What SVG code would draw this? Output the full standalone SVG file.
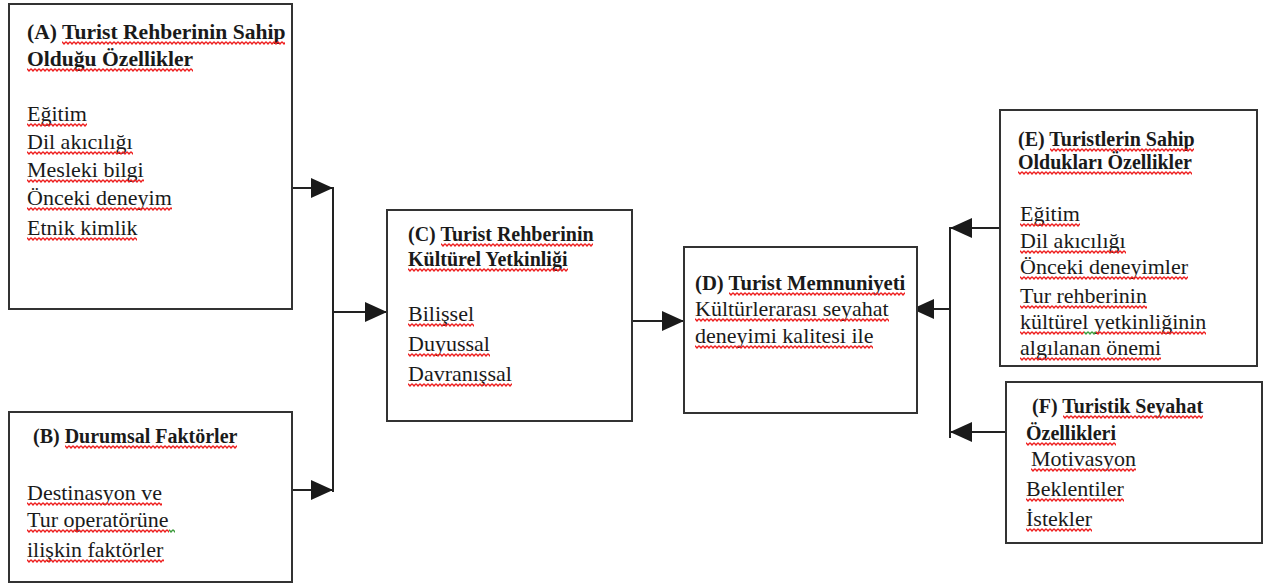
<svg xmlns="http://www.w3.org/2000/svg" width="1263" height="585" viewBox="0 0 1263 585">
  <style>
    .box { fill: #ffffff; stroke: #333333; stroke-width: 2; }
    .t { font-family: "Liberation Serif", "Times New Roman", serif; fill: #1a1a1a; font-size: 22px; }
    .b { font-weight: bold; font-size: 20px; }
    .conn { stroke: #222222; stroke-width: 2; fill: none; }
    .sq { fill: url(#squig); }
    .sqg { fill: url(#squigG); }
  </style>
  <defs>
    <marker id="arr" markerUnits="userSpaceOnUse" markerWidth="22" markerHeight="20" refX="22" refY="10" orient="auto">
      <path d="M0,0 L22,10 L0,20 Z" fill="#1a1a1a"/>
    </marker>
    <pattern id="squig" patternUnits="userSpaceOnUse" width="4" height="4">
      <path d="M0,0.8 L2,3 L4,0.8" fill="none" stroke="#ee1c1c" stroke-width="1.4"/>
    </pattern>
    <pattern id="squigG" patternUnits="userSpaceOnUse" width="4" height="4">
      <path d="M0,0.8 L2,3 L4,0.8" fill="none" stroke="#3a9a3a" stroke-width="1.4"/>
    </pattern>
  </defs>
  <rect width="1263" height="585" fill="#ffffff"/>

  <g id="connectors">
    <path class="conn" d="M289,188 H333" marker-end="url(#arr)"/>
    <path class="conn" d="M289,490 H333" marker-end="url(#arr)"/>
    <path class="conn" d="M333,187 V492"/>
    <path class="conn" d="M333,312 H387" marker-end="url(#arr)"/>
    <path class="conn" d="M632,321 H684" marker-end="url(#arr)"/>
    <path class="conn" d="M1000,228 H950" marker-end="url(#arr)"/>
    <path class="conn" d="M1006,432 H950" marker-end="url(#arr)"/>
    <path class="conn" d="M950,227 V438"/>
    <path class="conn" d="M950,309 H912" marker-end="url(#arr)"/>
  </g>

  <g id="nodeA">
    <rect class="box" x="9" y="4" width="283" height="305"/>
    <text class="t b" x="27" y="39" style="font-size:21.6px">(A) Turist Rehberinin Sahip</text>
    <text class="t b" x="27" y="66" style="font-size:21.6px">Olduğu Özellikler</text>
    <text class="t" x="27" y="121">Eğitim</text>
    <text class="t" x="27" y="149">Dil akıcılığı</text>
    <text class="t" x="27" y="177">Mesleki bilgi</text>
    <text class="t" x="27" y="205">Önceki deneyim</text>
    <text class="t" x="27" y="235">Etnik kimlik</text>
    <rect class="sq" transform="translate(62,41)" width="223" height="4"/>
    <rect class="sq" transform="translate(27,68)" width="166" height="4"/>
    <rect class="sq" transform="translate(27,123)" width="60" height="4"/>
    <rect class="sq" transform="translate(27,151)" width="106" height="4"/>
    <rect class="sq" transform="translate(27,179)" width="117" height="4"/>
    <rect class="sq" transform="translate(27,207)" width="145" height="4"/>
    <rect class="sq" transform="translate(27,237)" width="110" height="4"/>
  </g>

  <g id="nodeB">
    <rect class="box" x="9" y="412" width="283" height="170"/>
    <text class="t b" x="33" y="443">(B) Durumsal Faktörler</text>
    <text class="t" x="27" y="500">Destinasyon ve</text>
    <text class="t" x="27" y="527">Tur operatörüne</text>
    <text class="t" x="27" y="557">ilişkin faktörler</text>
    <rect class="sq" transform="translate(65,445)" width="172" height="4"/>
    <rect class="sq" transform="translate(27,502)" width="135" height="4"/>
    <rect class="sq" transform="translate(27,529)" width="142" height="4"/>
    <rect class="sqg" transform="translate(169,529)" width="6" height="4"/>
    <rect class="sq" transform="translate(27,559)" width="137" height="4"/>
  </g>

  <g id="nodeC">
    <rect class="box" x="387" y="210" width="245" height="211"/>
    <text class="t b" x="408" y="241">(C) Turist Rehberinin</text>
    <text class="t b" x="408" y="266">Kültürel Yetkinliği</text>
    <text class="t" x="408" y="321">Bilişsel</text>
    <text class="t" x="408" y="351">Duyussal</text>
    <text class="t" x="408" y="381">Davranışsal</text>
    <rect class="sq" transform="translate(441,243)" width="152" height="4"/>
    <rect class="sq" transform="translate(408,268)" width="160" height="4"/>
    <rect class="sq" transform="translate(408,323)" width="66" height="4"/>
    <rect class="sq" transform="translate(408,353)" width="82" height="4"/>
    <rect class="sq" transform="translate(408,383)" width="104" height="4"/>
  </g>

  <g id="nodeD">
    <rect class="box" x="684" y="247" width="233" height="166"/>
    <text class="t b" x="695" y="290" style="font-size:20.7px">(D) Turist Memnuniyeti</text>
    <text class="t" x="695" y="316">Kültürlerarası seyahat</text>
    <text class="t" x="695" y="343">deneyimi kalitesi ile</text>
    <rect class="sq" transform="translate(729,292)" width="176" height="4"/>
    <rect class="sq" transform="translate(695,318)" width="194" height="4"/>
    <rect class="sq" transform="translate(695,345)" width="178" height="4"/>
  </g>

  <g id="nodeE">
    <rect class="box" x="1000" y="110" width="257" height="256"/>
    <text class="t b" x="1018" y="146">(E) Turistlerin Sahip</text>
    <text class="t b" x="1018" y="169">Oldukları Özellikler</text>
    <text class="t" x="1020" y="221">Eğitim</text>
    <text class="t" x="1020" y="248">Dil akıcılığı</text>
    <text class="t" x="1020" y="274">Önceki deneyimler</text>
    <text class="t" x="1020" y="303">Tur rehberinin</text>
    <text class="t" x="1020" y="329">kültürel  yetkinliğinin</text>
    <text class="t" x="1020" y="355">algılanan önemi</text>
    <rect class="sq" transform="translate(1050,148)" width="144" height="4"/>
    <rect class="sq" transform="translate(1018,171)" width="174" height="4"/>
    <rect class="sq" transform="translate(1020,223)" width="60" height="4"/>
    <rect class="sq" transform="translate(1020,250)" width="106" height="4"/>
    <rect class="sq" transform="translate(1020,276)" width="168" height="4"/>
    <rect class="sq" transform="translate(1020,305)" width="127" height="4"/>
    <rect class="sq" transform="translate(1020,331)" width="64" height="4"/>
    <rect class="sqg" transform="translate(1084,331)" width="12" height="4"/>
    <rect class="sq" transform="translate(1096,331)" width="110" height="4"/>
    <rect class="sq" transform="translate(1020,357)" width="141" height="4"/>
  </g>

  <g id="nodeF">
    <rect class="box" x="1006" y="382" width="256" height="161"/>
    <text class="t b" x="1032" y="413">(F) Turistik Seyahat</text>
    <text class="t b" x="1026" y="440">Özellikleri</text>
    <text class="t" x="1031" y="466">Motivasyon</text>
    <text class="t" x="1026" y="496">Beklentiler</text>
    <text class="t" x="1026" y="526">İstekler</text>
    <rect class="sq" transform="translate(1063,415)" width="140" height="4"/>
    <rect class="sq" transform="translate(1026,442)" width="90" height="4"/>
    <rect class="sq" transform="translate(1031,468)" width="105" height="4"/>
    <rect class="sq" transform="translate(1026,498)" width="98" height="4"/>
    <rect class="sq" transform="translate(1026,528)" width="66" height="4"/>
  </g>
</svg>
